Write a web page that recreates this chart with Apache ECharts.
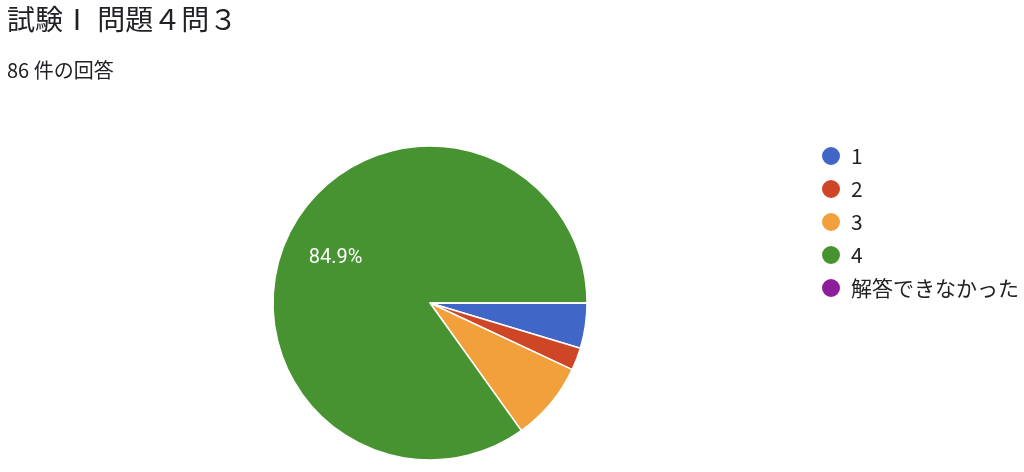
<!DOCTYPE html>
<html><head><meta charset="utf-8">
<script src="https://cdn.jsdelivr.net/npm/echarts@6/dist/echarts.min.js"></script>
<style>html,body{margin:0;padding:0;background:#fff}#c{width:1024px;height:472px}</style>
</head><body><div id="c"></div>
<script>
const titleText = '試験Ⅰ 問題４問３';
const subtitleText = '86 件の回答';
const categories = ['1', '2', '3', '4', '解答できなかった'];
const counts = [4, 2, 7, 73, 0];
const colors = ['#4066c8', '#cf4627', '#f2a03b', '#479331', '#8e1d9c'];

const chart = echarts.init(document.getElementById('c'), null, {renderer: 'canvas'});
const font = "'Noto Sans CJK JP', 'Noto Sans', sans-serif";
chart.setOption({
  animation: false,
  color: colors,
  title: [
    {text: titleText, left: 7, top: 5, padding: 0, textStyle: {fontFamily: font, fontSize: 28, fontWeight: 'normal', color: '#202124'}},
    {text: subtitleText, left: 7, top: 60, padding: 0, textStyle: {fontFamily: font, fontSize: 20, fontWeight: 'normal', color: '#202124'}}
  ],
  legend: {
    orient: 'vertical', left: 820, top: 145, padding: 0,
    icon: 'circle', itemWidth: 20, itemHeight: 20, itemGap: 11,
    textStyle: {fontFamily: font, fontSize: 21, color: '#222', padding: [0, 0, 0, 5]},
    data: categories
  },
  series: [{
    type: 'pie',
    center: [430, 303],
    radius: 157,
    startAngle: 0,
    clockwise: true,
    avoidLabelOverlap: false,
    emphasis: {disabled: true},
    itemStyle: {borderColor: '#fff', borderWidth: 1.5},
    label: {
      show: true, position: 'inside', offset: [-22, -8],
      fontFamily: 'Roboto, sans-serif', fontSize: 20, color: '#fff',
      formatter: p => p.percent >= 10 ? p.percent.toFixed(1) + '%' : ''
    },
    labelLine: {show: false},
    data: categories.map((c, i) => ({name: c, value: counts[i]}))
  }]
});
</script></body></html>
